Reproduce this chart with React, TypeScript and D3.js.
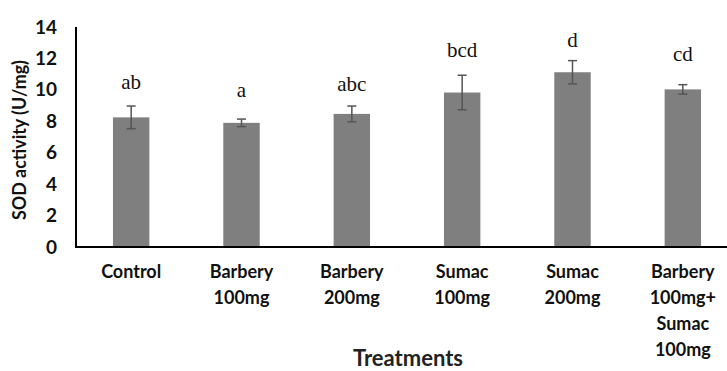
import React from "react";
import * as d3 from "d3";

const categories: string[][] = [
  ["Control"],
  ["Barbery", "100mg"],
  ["Barbery", "200mg"],
  ["Sumac", "100mg"],
  ["Sumac", "200mg"],
  ["Barbery", "100mg+", "Sumac", "100mg"],
];
const means = [8.25, 7.9, 8.47, 9.83, 11.12, 10.03];
const errors = [0.72, 0.24, 0.5, 1.1, 0.74, 0.3];
const letters = ["ab", "a", "abc", "bcd", "d", "cd"];
const letterY = [10.05, 9.55, 9.95, 12.1, 12.75, 11.86];
const yTicks = [0, 2, 4, 6, 8, 10, 12, 14];

const W = 727;
const H = 371;
const left = 76;
const top = 27;
const bottom = 247;
const right = 738;

export default function App() {
  const x = d3
    .scaleBand<number>()
    .domain(d3.range(categories.length))
    .range([left, right])
    .paddingInner(0.67)
    .paddingOuter(0.335);
  const y = d3.scaleLinear().domain([0, 14]).range([bottom, top]);
  const bw = x.bandwidth();
  const sans = "Lato, 'Open Sans', sans-serif";

  return (
    <svg
      width={W}
      height={H}
      style={{ position: "absolute", left: 0, top: 0, background: "#fff" }}
    >
      <rect width={W} height={H} fill="#fff" />
      {means.map((m, i) => {
        const cx = (x(i) as number) + bw / 2;
        return (
          <g key={i}>
            <rect
              x={x(i)}
              y={y(m)}
              width={bw}
              height={y(0) - y(m)}
              fill="#7f7f7f"
            />
            <line
              x1={cx}
              x2={cx}
              y1={y(m + errors[i])}
              y2={y(m - errors[i])}
              stroke="#555"
              strokeWidth={1.5}
            />
            <line
              x1={cx - 4.5}
              x2={cx + 4.5}
              y1={y(m + errors[i])}
              y2={y(m + errors[i])}
              stroke="#555"
              strokeWidth={1.5}
            />
            <line
              x1={cx - 4.5}
              x2={cx + 4.5}
              y1={y(m - errors[i])}
              y2={y(m - errors[i])}
              stroke="#555"
              strokeWidth={1.5}
            />
            <text
              x={cx}
              y={y(letterY[i])}
              textAnchor="middle"
              fontFamily="'Liberation Serif', 'DejaVu Serif', serif"
              fontSize={21}
              fill="#111"
            >
              {letters[i]}
            </text>
            <text
              x={cx}
              textAnchor="middle"
              fontFamily={sans}
              fontWeight="bold"
              fontSize={18}
              fill="#111"
            >
              {categories[i].map((ln, j) => (
                <tspan key={j} x={cx} y={bottom + 31 + j * 26}>
                  {ln}
                </tspan>
              ))}
            </text>
          </g>
        );
      })}
      {yTicks.map((t) => (
        <text
          key={t}
          x={57}
          y={y(t) + 6.5}
          textAnchor="end"
          fontFamily={sans}
          fontWeight="bold"
          fontSize={19}
          fill="#111"
        >
          {t}
        </text>
      ))}
      <line x1={left} x2={left} y1={top} y2={bottom} stroke="#000" strokeWidth={2} />
      <line x1={left - 1} x2={right} y1={bottom} y2={bottom} stroke="#000" strokeWidth={2} />
      <text
        transform={`translate(26, ${140}) rotate(-90)`}
        textAnchor="middle"
        fontFamily={sans}
        fontWeight="bold"
        fontSize={18}
        textLength={160}
        lengthAdjust="spacingAndGlyphs"
        fill="#111"
      >
        SOD activity (U/mg)
      </text>
      <text
        x={408}
        y={366}
        textAnchor="middle"
        fontFamily={sans}
        fontWeight="bold"
        fontSize={22}
        fill="#222"
      >
        Treatments
      </text>
    </svg>
  );
}
